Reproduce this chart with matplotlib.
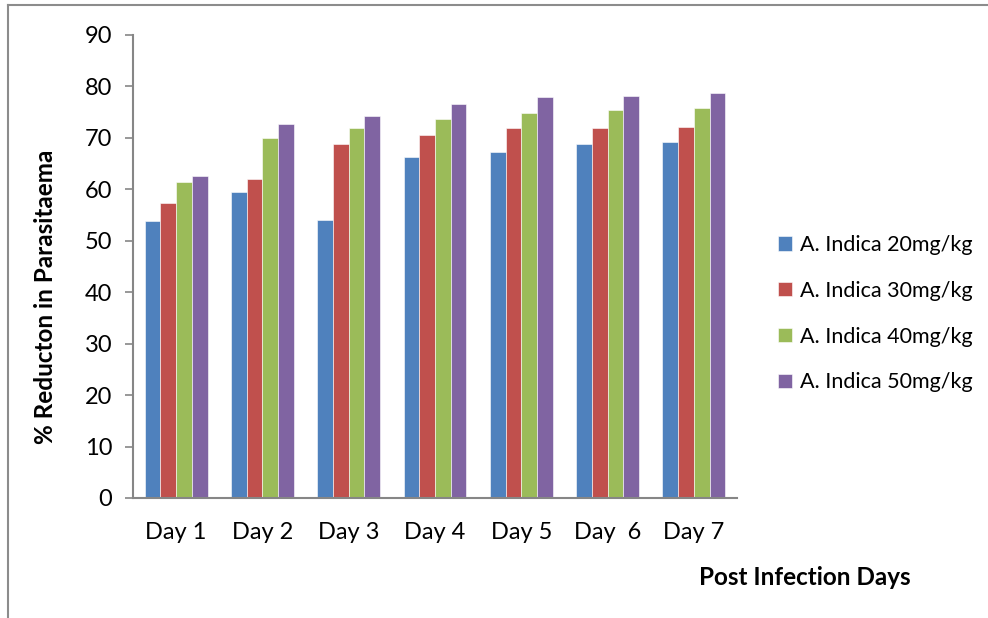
import numpy as np
import matplotlib
matplotlib.use("Agg")
import matplotlib.pyplot as plt
from matplotlib.lines import Line2D

plt.rcParams['font.family'] = ['Lato', 'DejaVu Sans']

days = ['Day 1', 'Day 2', 'Day 3', 'Day 4', 'Day 5', 'Day  6', 'Day 7']
series_names = ['A. Indica 20mg/kg', 'A. Indica 30mg/kg',
				'A. Indica 40mg/kg', 'A. Indica 50mg/kg']
dose20 = [53.8, 59.4, 54.0, 66.3, 67.2, 68.8, 69.1]
dose30 = [57.3, 62.1, 68.8, 70.6, 71.9, 72.0, 72.1]
dose40 = [61.4, 69.9, 71.9, 73.6, 74.8, 75.4, 75.8]
dose50 = [62.6, 72.6, 74.2, 76.5, 78.0, 78.1, 78.7]
colors = ['#4F81BD', '#C0504D', '#9BBB59', '#8064A2']

fig = plt.figure(figsize=(9.88, 6.18), dpi=100)
ax = fig.add_axes([0.1346, 0.1942, 0.6114, 0.7492])

x = np.arange(len(days))
width = 0.182
allSeries = [dose20, dose30, dose40, dose50]
for i, vals in enumerate(allSeries):
	offset = (i - 1.5) * width
	ax.bar(x + offset, vals, width, color=colors[i], label=series_names[i],
		   edgecolor='white', linewidth=0.4)

ax.set_xlim(-0.5, len(days) - 0.5)
ax.set_ylim(0, 90)
ax.set_yticks(np.arange(0, 91, 10))
ax.set_xticks(x)
ax.set_xticklabels(days)

for side in ['top', 'right']:
	ax.spines[side].set_visible(False)
for side in ['left', 'bottom']:
	ax.spines[side].set_color('#868686')
	ax.spines[side].set_linewidth(1.5)

ax.tick_params(axis='y', length=6, width=1.2, color='#868686', labelsize=17, pad=9)
ax.tick_params(axis='x', length=0, labelsize=17, pad=17)

ax.set_ylabel('% Reducton in Parasitaema', fontsize=17.5, fontweight='bold')
ax.yaxis.set_label_coords(-0.125, 0.434)
fig.text(0.815, 0.066, 'Post Infection Days', fontsize=17.5, fontweight='bold',
		 ha='center', va='center')

ax.legend(loc='center left', bbox_to_anchor=(1.035, 0.398), frameon=False,
		  fontsize=15.5, handlelength=0.65, handleheight=0.65, handletextpad=0.4,
		  labelspacing=1.2)

# outer frame (left and top edges only visible in the reference)
fig.add_artist(Line2D([0.008, 0.008], [0.0, 0.992], color='#8c8c8c', linewidth=1.5))
fig.add_artist(Line2D([0.008, 1.0], [0.992, 0.992], color='#8c8c8c', linewidth=1.5))

plt.savefig('out.png', dpi=100)
